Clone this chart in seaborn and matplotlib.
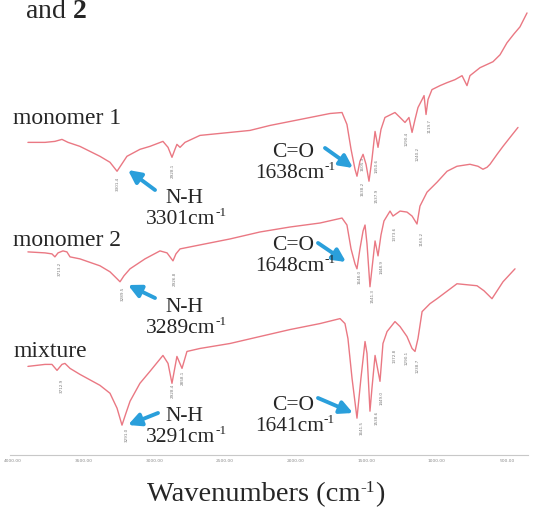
import matplotlib.pyplot as plt
import matplotlib.ticker as mticker
import pandas as pd
import seaborn as sns

# FT-IR traces: wavenumber (cm-1) and offset transmittance (a.u.)
wn_m1 = [3894, 3773, 3703, 3653, 3610, 3526, 3384, 3313, 3263, 3235, 3193, 3101, 3030,
         2938, 2902, 2874, 2853, 2839, 2817, 2782, 2676, 2463, 2322, 2180, 1967, 1755,
         1670, 1635, 1606, 1578, 1564, 1543, 1521, 1500, 1479, 1458, 1436, 1415, 1394,
         1366, 1295, 1259, 1224, 1196, 1174, 1153, 1132, 1103, 1089, 1075, 1061, 1033,
         976, 926, 870, 820, 785, 764, 693, 601, 551, 502, 452, 410, 360]
t_m1 = [313, 313, 314, 316, 313, 309, 299, 293, 284, 290, 299, 306, 309,
        314, 308, 298, 306, 311, 308, 313, 320, 323, 325, 330, 336, 342,
        343, 331, 306, 286, 279, 294, 301, 291, 274, 296, 324, 308, 326,
        338, 343, 338, 333, 338, 323, 336, 348, 356, 360, 341, 356, 366,
        370, 373, 376, 380, 370, 380, 388, 394, 401, 413, 422, 429, 443]

wn_m2 = [3894, 3773, 3724, 3703, 3681, 3646, 3618, 3596, 3526, 3384, 3313, 3263, 3242,
         3214, 3171, 3065, 2959, 2909, 2867, 2846, 2817, 2676, 2463, 2251, 2038, 1826,
         1670, 1635, 1606, 1578, 1564, 1543, 1521, 1507, 1493, 1472, 1458, 1436, 1415,
         1394, 1373, 1330, 1309, 1259, 1210, 1174, 1139, 1118, 1068, 997, 926, 856,
         764, 707, 672, 643, 622, 572, 530, 480, 424]
t_m2 = [203, 202, 201, 198, 202, 204, 203, 198, 196, 189, 183, 176, 173,
        179, 186, 196, 204, 202, 194, 201, 206, 210, 216, 223, 228, 232,
        237, 230, 206, 191, 186, 206, 224, 230, 211, 168, 186, 214, 199,
        220, 234, 244, 239, 244, 243, 239, 231, 249, 263, 273, 284, 289,
        291, 289, 286, 288, 291, 301, 309, 318, 328]

wn_mix = [3894, 3773, 3724, 3688, 3653, 3632, 3596, 3526, 3384, 3313, 3263, 3228, 3200,
          3171, 3101, 3030, 2938, 2902, 2874, 2839, 2803, 2768, 2676, 2463, 2251, 2038,
          1826, 1684, 1649, 1628, 1599, 1564, 1536, 1507, 1493, 1472, 1458, 1436, 1401,
          1380, 1351, 1295, 1259, 1210, 1174, 1153, 1132, 1103, 1047, 997, 856, 714,
          665, 608, 530, 445]
t_mix = [88, 90, 90, 84, 90, 91, 86, 80, 69, 61, 46, 29, 41,
         53, 71, 83, 99, 91, 71, 98, 86, 103, 106, 111, 118, 125,
         131, 136, 131, 116, 76, 36, 76, 113, 101, 43, 66, 99, 73,
         111, 123, 133, 128, 118, 106, 103, 116, 143, 151, 156, 171, 169,
         164, 156, 173, 186]

trace_names = ["monomer 1", "monomer 2", "mixture"]
xticks = [4000, 3500, 3000, 2500, 2000, 1500, 1000, 500]

# band assignments written on the figure
nh_labels = [("N-H", "3301"), ("N-H", "3289"), ("N-H", "3291")]
co_labels = [("C=O", "1638"), ("C=O", "1648"), ("C=O", "1641")]

# small peak-picking labels (wavenumber position, height, text)
peak_tags = [
    (3256, 271, "3301.4"), (2867, 284, "2928.1"), (1521, 291, "1605.3"),
    (1521, 266, "1638.2"), (1422, 289, "1450.6"), (1422, 259, "1537.9"),
    (1210, 316, "1290.4"), (1132, 301, "1240.2"), (1047, 329, "1119.7"),
    (3667, 186, "3713.2"), (3221, 161, "3289.5"), (2853, 176, "2926.8"),
    (1543, 178, "1648.0"), (1450, 159, "1541.3"), (1387, 188, "1448.9"),
    (1295, 221, "1373.6"), (1103, 216, "1165.2"),
    (3653, 68, "3712.9"), (3193, 19, "3291.0"), (2867, 63, "2928.4"),
    (2796, 76, "2858.1"), (1528, 26, "1641.5"), (1422, 36, "1538.6"),
    (1387, 56, "1449.0"), (1295, 99, "1372.8"), (1210, 96, "1290.1"),
    (1132, 89, "1238.7"),
]

sns.set_style("white")
plt.rcParams["font.family"] = ["Liberation Serif", "DejaVu Serif"]
plt.rcParams["mathtext.fontset"] = "custom"
plt.rcParams["mathtext.rm"] = "Liberation Serif"
plt.rcParams["mathtext.bf"] = "Liberation Serif:bold"

W, H = 535, 508
fig = plt.figure(figsize=(W / 100, H / 100), dpi=100)
ax = fig.add_axes([10 / W, 53 / H, 518 / W, 455 / H])


def P(px, py):
    return (px / W, 1 - py / H)


def rich(px, py, parts, ha="center"):
    # parts: (text, fontsize, raise in px); laid out left to right on one baseline
    r = fig.canvas.get_renderer()
    arts, widths = [], []
    for txt, fs, dy in parts:
        a = fig.text(0, 0, txt, fontsize=fs, va="baseline", ha="left")
        widths.append(a.get_window_extent(r).width)
        arts.append((a, dy))
    x = px - sum(widths) / 2 if ha == "center" else px
    for (a, dy), w in zip(arts, widths):
        a.set_position(P(x, py - dy))
        x += w


red = "#EA7883"
for name, wn, t in zip(trace_names, [wn_m1, wn_m2, wn_mix], [t_m1, t_m2, t_mix]):
    df = pd.DataFrame({"wn": wn, "T": t})
    sns.lineplot(data=df, x="wn", y="T", ax=ax, color=red, lw=1.0, sort=False, estimator=None)

ax.set_xlim(4021, 353)
ax.set_ylim(-1, 456)
ax.set_xticks(xticks)
ax.set_xticklabels([f"{v:.2f}" for v in xticks])
ax.xaxis.set_minor_locator(mticker.MultipleLocator(100))
ax.tick_params(axis="x", which="major", labelsize=3.2, labelcolor="#8a8a8a", colors="#c0c0c0",
               length=2.5, width=0.5, direction="inout", pad=1.5)
ax.tick_params(axis="x", which="minor", colors="#c8c8c8", length=1.5, width=0.4, direction="inout")
for lab in ax.get_xticklabels():
    lab.set_fontfamily("DejaVu Sans")
ax.set_yticks([])
ax.set_xlabel("")
ax.set_ylabel("")
for s in ["left", "top", "right"]:
    ax.spines[s].set_visible(False)
ax.spines["bottom"].set_color("#c8c8c8")
ax.spines["bottom"].set_linewidth(0.8)

for x, y, txt in peak_tags:
    ax.text(x, y, txt, rotation=90, fontsize=3.0, color="#7a7a7a", ha="center", va="center",
            family="DejaVu Sans")

# caption fragment and trace names
fig.text(*P(25, 18), r"and $\mathbf{2}$", fontsize=20, va="baseline", ha="left")
for name, py in zip(trace_names, [124, 246, 357]):
    fig.text(*P(13, py), name, fontsize=17, va="baseline", ha="left")

blue = "#2A9FDB"
# label centre x, baseline of first line, arrow tail, arrow head (pixels)
nh_layout = [(184, 203, (155, 190), (128, 170)),
             (184, 312, (155, 298), (128, 285)),
             (184, 421, (158, 413), (128, 425))]
co_layout = [(293, 157, (325, 148), (353, 168)),
             (293, 250, (318, 243), (346, 262)),
             (293, 410, (318, 398), (353, 413))]
for labels, layout in [(nh_labels, nh_layout), (co_labels, co_layout)]:
    for (bond, num), (cx, by, tail, head) in zip(labels, layout):
        fig.text(*P(cx, by), bond, fontsize=15.5, ha="center", va="baseline")
        rich(cx + 2, by + 21, [(num + "cm", 15.5, 0), ("-1", 9.5, 8)])
        ax.annotate("", xy=P(*head), xycoords="figure fraction", xytext=P(*tail),
                    textcoords="figure fraction",
                    arrowprops=dict(arrowstyle="-|>", color=blue, lw=2.8, mutation_scale=19,
                                    shrinkA=0, shrinkB=0))

rich(266, 501, [("Wavenumbers (cm", 20.5, 0), ("-1", 12.5, 9), (")", 20.5, 0)])

fig.savefig("out.png", dpi=100)
plt.close(fig)
